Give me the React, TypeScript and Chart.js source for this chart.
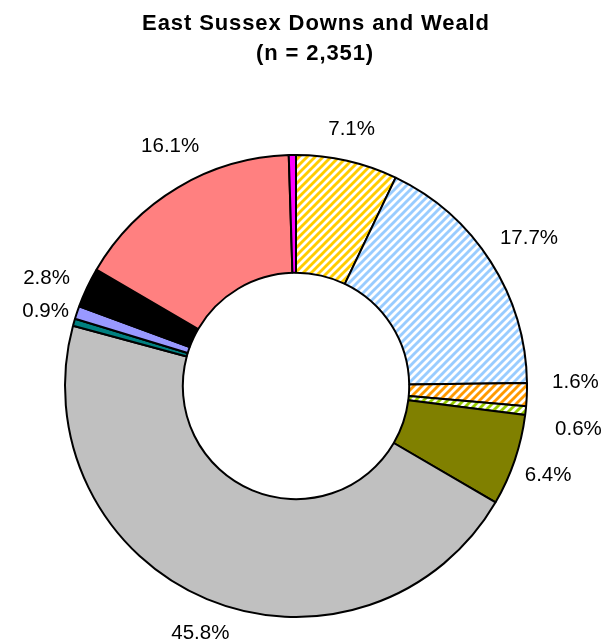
import React, { useEffect, useRef } from "react";
import { Chart, registerables } from "chart.js";

Chart.register(...registerables);

const titleLines = ["East Sussex Downs and Weald", "(n = 2,351)"];
const categories = [
  "Yellow striped",
  "Blue striped",
  "Orange striped",
  "Green striped",
  "Olive",
  "Grey",
  "Teal",
  "Lavender",
  "Black",
  "Salmon",
  "Magenta",
];
const values = [7.1, 17.7, 1.6, 0.6, 6.4, 45.8, 0.5, 0.9, 2.8, 16.1, 0.5];
const showLabel = [true, true, true, true, true, true, false, true, true, true, false];
const fillColors = [
  "#FFCC00",
  "#99CCFF",
  "#FF9900",
  "#99CC00",
  "#808000",
  "#C0C0C0",
  "#008080",
  "#9999FF",
  "#000000",
  "#FF8080",
  "#FF00FF",
];
const striped = [true, true, true, true, false, false, false, false, false, false, false];

// small layout nudges for label placement (pixels), to mimic the original label layout
const labelNudge: [number, number][] = [
  [-2, -3],
  [0, 1],
  [8, -14],
  [12, 14],
  [-6, 2],
  [7, 2],
  [0, 0],
  [8, 12],
  [-3, 8],
  [12, -8],
  [0, 0],
];

function makeStripe(color: string): CanvasPattern | string {
  const size = 8;
  const c = document.createElement("canvas");
  c.width = size;
  c.height = size;
  const ctx = c.getContext("2d");
  if (!ctx) return color;
  ctx.fillStyle = "#FFFFFF";
  ctx.fillRect(0, 0, size, size);
  ctx.strokeStyle = color;
  ctx.lineWidth = 2.9;
  ctx.lineCap = "square";
  for (const off of [-size, 0, size]) {
    ctx.beginPath();
    ctx.moveTo(off - 1, size + 1);
    ctx.lineTo(off + size + 1, -1);
    ctx.stroke();
  }
  const p = ctx.createPattern(c, "repeat");
  return p || color;
}

const titlePlugin = {
  id: "customTitle",
  afterDraw(chart: any) {
    const ctx = chart.ctx;
    ctx.save();
    ctx.fillStyle = "#000";
    ctx.font = "bold 22px 'Liberation Sans', Arial, sans-serif";
    ctx.textAlign = "center";
    ctx.textBaseline = "alphabetic";
    try {
      (ctx as any).letterSpacing = "0.9px";
    } catch (e) {}
    ctx.fillText(titleLines[0], 316, 30);
    ctx.fillText(titleLines[1], 315, 60);
    ctx.restore();
  },
};

const labelPlugin = {
  id: "outsideLabels",
  afterDatasetsDraw(chart: any) {
    const ctx = chart.ctx;
    const meta = chart.getDatasetMeta(0);
    ctx.save();
    ctx.font = "20.5px 'Liberation Sans', Arial, sans-serif";
    ctx.fillStyle = "#000";
    ctx.textAlign = "center";
    ctx.textBaseline = "middle";
    const gap = 17;
    const h = 15;
    meta.data.forEach((arc: any, i: number) => {
      if (!showLabel[i]) return;
      const text = values[i].toFixed(1) + "%";
      const w = ctx.measureText(text).width;
      const mid = (arc.startAngle + arc.endAngle) / 2;
      const s = Math.abs(Math.cos(mid));
      const cc = Math.abs(Math.sin(mid));
      const r = arc.outerRadius + gap + (w / 2) * s + (h / 2) * cc;
      const x = arc.x + Math.cos(mid) * r + labelNudge[i][0];
      const y = arc.y + Math.sin(mid) * r + labelNudge[i][1];
      ctx.fillText(text, x, y);
    });
    ctx.restore();
  },
};

export default function App() {
  const ref = useRef<HTMLCanvasElement>(null);
  useEffect(() => {
    if (!ref.current) return;
    const bg = fillColors.map((c, i) => (striped[i] ? makeStripe(c) : c));
    const chart = new Chart(ref.current, {
      type: "doughnut",
      data: {
        labels: categories,
        datasets: [
          {
            data: values,
            backgroundColor: bg as any,
            borderColor: "#000000",
            borderWidth: 2,
            borderAlign: "center",
          },
        ],
      },
      options: {
        animation: false,
        responsive: false,
        cutout: "49%",
        layout: { padding: { left: 64, right: 85, top: 154, bottom: 25 } },
        plugins: {
          legend: { display: false },
          title: { display: false },
          tooltip: { enabled: false },
        },
      },
      plugins: [labelPlugin, titlePlugin],
    });
    return () => chart.destroy();
  }, []);
  return (
    <div style={{ position: "absolute", left: 0, top: 0, width: 613, height: 643, background: "#fff" }}>
      <canvas ref={ref} width={613} height={643} style={{ width: 613, height: 643 }} />
    </div>
  );
}
